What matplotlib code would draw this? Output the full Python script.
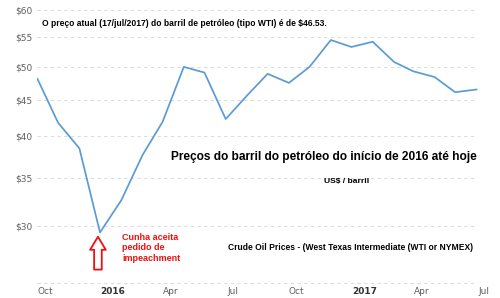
import matplotlib

matplotlib.use("Agg")
import matplotlib.pyplot as plt
import pandas as pd
from matplotlib.ticker import NullLocator, NullFormatter

# monthly WTI prices, Sep 2015 - Jun 2017 (plotted around the 20th of each month)
dates = pd.date_range("2015-09-01", "2017-06-01", freq="MS") + pd.Timedelta(days=19)
prices = [48.1, 41.8, 38.5, 29.4, 32.6, 37.7, 41.9, 50.0, 49.1, 42.3, 45.5,
          48.9, 47.5, 50.0, 54.5, 53.3, 54.2, 50.8, 49.3, 48.4, 46.1, 46.5]

price_ticks = [30, 35, 40, 45, 50, 55, 60]
grid_levels = [25] + price_ticks
tick_dates = pd.to_datetime(["2015-10-01", "2016-01-08", "2016-04-01", "2016-07-01",
                             "2016-10-01", "2017-01-08", "2017-04-01", "2017-07-01"])
tick_labels = ["Oct", "2016", "Apr", "Jul", "Oct", "2017", "Apr", "Jul"]

event_date = pd.Timestamp("2015-12-17")
event_text = "Cunha aceita\npedido de\nimpeachment"

W, H = 500, 298
fig = plt.figure(figsize=(W / 100, H / 100), dpi=100)
ax = fig.add_axes([0.0736, 0.0503, 0.9068, 0.916])
ax.set_yscale("log")
ax.set_ylim(25, 60)
ax.set_xlim(pd.Timestamp("2015-09-19"), pd.Timestamp("2017-07-10"))

ax.hlines(grid_levels, dates[0], dates[-1], colors="#dcdcdc",
          linestyles=(0, (3, 3)), lw=0.8, clip_on=False, zorder=1)
ax.plot(dates, prices, color="#5b9bd5", lw=1.25, zorder=3)

for spine in ax.spines.values():
    spine.set_visible(False)

ax.yaxis.set_minor_locator(NullLocator())
ax.yaxis.set_minor_formatter(NullFormatter())
ax.set_yticks(price_ticks)
ax.set_yticklabels([f"${v}" for v in price_ticks])
ax.set_xticks(tick_dates)
ax.set_xticklabels(tick_labels)
ax.tick_params(length=0, labelsize=6.5, labelcolor="#5f5f5f", pad=3)
for lbl in ax.get_xticklabels():
    if lbl.get_text().isdigit():
        lbl.set_fontweight("bold")
        lbl.set_color("#333333")

ax.annotate("", xy=(event_date, 29.0), xytext=(event_date, 26.1),
            arrowprops=dict(arrowstyle="simple,head_length=0.94,head_width=1.13,tail_width=0.55",
                            fc="white", ec="#f01010", lw=1.3, mutation_scale=10,
                            shrinkA=0, shrinkB=0))


def px(x, y):
    return x / W, 1 - y / H


font = "Liberation Sans"
fig.text(*px(122, 248), event_text, color="#f01010", fontsize=6.5, fontweight="bold",
         family=font, va="center", ha="left", linespacing=1.25)
fig.text(*px(42, 23), "O preço atual (17/jul/2017) do barril de petróleo (tipo WTI) é de $46.53.",
         fontsize=6.15, fontweight="bold", family=font, va="center", ha="left")
fig.text(*px(171, 157), "Preços do barril do petróleo do início de 2016 até hoje",
         fontsize=8.6, fontweight="bold", family=font, va="center", ha="left")
fig.text(*px(324, 182), "US$ / barril",
         fontsize=6.1, fontweight="bold", family=font, va="center", ha="left")
fig.text(*px(228, 248), "Crude Oil Prices - (West Texas Intermediate (WTI or NYMEX)",
         fontsize=6.15, fontweight="bold", family=font, va="center", ha="left")

fig.savefig("out.png", dpi=100)
